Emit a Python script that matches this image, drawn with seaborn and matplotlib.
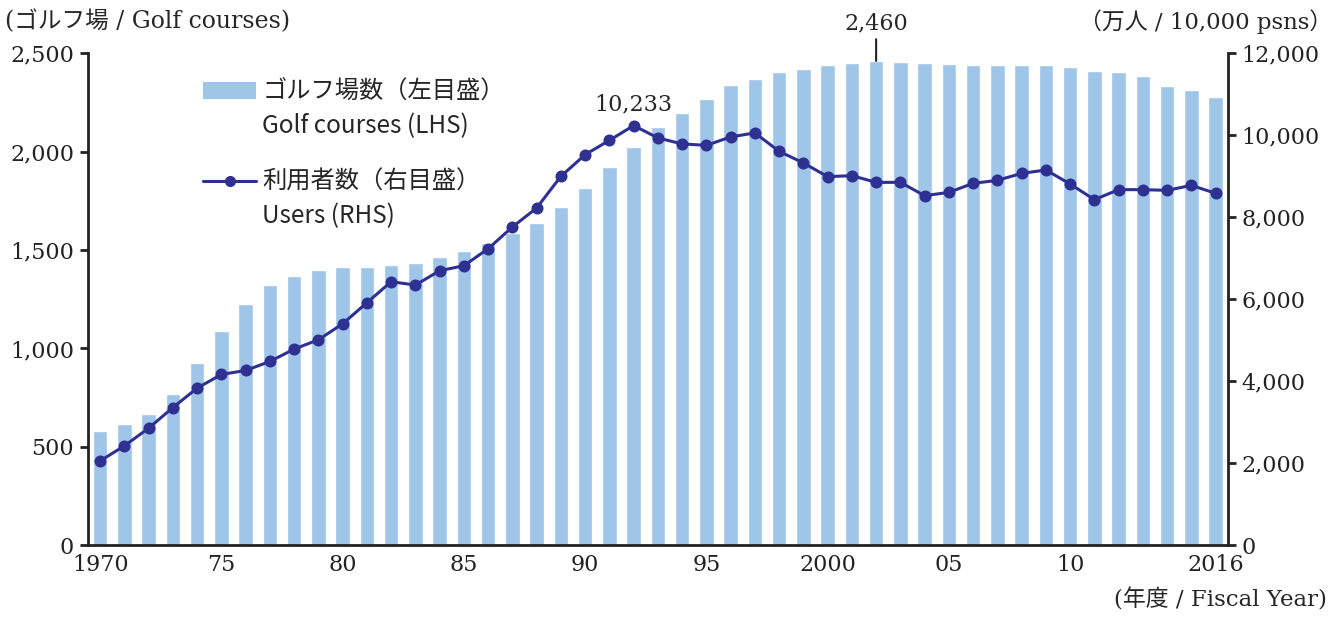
import numpy as np
import pandas as pd
import seaborn as sns
import matplotlib.pyplot as plt
from matplotlib.patches import Patch
from matplotlib.lines import Line2D

years = list(range(1970, 2017))
courses = [582, 619, 668, 771, 925, 1091, 1227, 1320, 1369, 1401,
           1415, 1416, 1425, 1435, 1467, 1494, 1536, 1586, 1637, 1719,
           1816, 1923, 2024, 2126, 2195, 2269, 2337, 2366, 2402, 2417,
           2439, 2451, 2460, 2455, 2449, 2442, 2439, 2439, 2439, 2441,
           2427, 2410, 2403, 2383, 2332, 2314, 2278]
users = [2061, 2427, 2858, 3361, 3834, 4167, 4264, 4484, 4785, 5012,
         5402, 5915, 6427, 6346, 6695, 6817, 7232, 7761, 8224, 8995,
         9524, 9873, 10233, 9932, 9785, 9751, 9956, 10054, 9605, 9322,
         8988, 9012, 8849, 8849, 8524, 8605, 8825, 8898, 9068, 9150,
         8809, 8427, 8671, 8671, 8654, 8776, 8581]
xtick_labels = {1970: "1970", 1975: "75", 1980: "80", 1985: "85", 1990: "90",
                1995: "95", 2000: "2000", 2005: "05", 2010: "10", 2016: "2016"}

df = pd.DataFrame({"year": years, "courses": courses, "users": users})

bar_color = "#9FC5E8"
line_color = "#2E3192"
serif = ["DejaVu Serif", "Noto Sans CJK JP"]
sans = ["Noto Sans CJK JP", "DejaVu Sans"]

sns.set_style("white")
plt.rcParams["font.family"] = serif

fig = plt.figure(figsize=(13.44, 6.17), dpi=100)
ax = fig.add_axes([0.0655, 0.116, 0.848, 0.798])

sns.barplot(data=df, x="year", y="courses", color=bar_color, width=0.6,
            saturation=1, ax=ax)
ax.set_ylim(0, 2500)
ax.set_xlim(-0.5, len(years) - 0.5)
ax.set_yticks(range(0, 2501, 500))
ax.set_yticklabels([f"{v:,}" for v in range(0, 2501, 500)])

pos = [years.index(y) for y in xtick_labels]
ax.set_xticks(pos)
ax.set_xticklabels(list(xtick_labels.values()))
ax.set_xlabel("")
ax.set_ylabel("")

ax2 = ax.twinx()
sns.pointplot(data=df, x="year", y="users", color=line_color, ax=ax2,
              markers="o", markersize=7, linewidth=2.2)
ax2.set_ylim(0, 12000)
ax2.set_xlim(-0.5, len(years) - 0.5)
ax2.set_yticks(range(0, 12001, 2000))
ax2.set_yticklabels([f"{v:,}" for v in range(0, 12001, 2000)])
ax2.set_ylabel("")

for a in (ax, ax2):
    a.spines["top"].set_visible(False)
    for s in ("left", "right", "bottom"):
        a.spines[s].set_linewidth(2)
        a.spines[s].set_color("#222222")
    a.tick_params(axis="y", direction="out", length=6, width=2,
                  labelsize=16, colors="#222222", pad=4)
    a.tick_params(axis="x", length=0, labelsize=16, colors="#222222", pad=6)
ax.spines["right"].set_visible(False)
ax2.spines["left"].set_visible(False)
ax2.spines["bottom"].set_visible(False)

# annotations
i92 = years.index(1992)
ax2.annotate(f"{users[i92]:,}", (i92, users[i92]), xytext=(0, 7),
             textcoords="offset points", ha="center", va="bottom", fontsize=16)
i02 = years.index(2002)
ax.annotate(f"{courses[i02]:,}", (i02, courses[i02]), xytext=(0, 19),
            textcoords="offset points", ha="center", va="bottom", fontsize=16,
            arrowprops=dict(arrowstyle="-", color="#222222", lw=1.5,
                            shrinkA=1, shrinkB=0))

# unit labels
fig.text(0.004, 0.965, "(ゴルフ場 / Golf courses)", fontsize=17, va="center",
         ha="left", family=serif)
fig.text(0.991, 0.965, "（万人 / 10,000 psns）", fontsize=16.5, va="center",
         ha="right", family=serif)
fig.text(0.987, 0.027, "(年度 / Fiscal Year)", fontsize=16.5, va="center",
         ha="right", family=serif)

# legend: handle next to the first line of each two-line entry
blank = Patch(facecolor="none", edgecolor="none")
leg_kw = dict(loc="upper left", frameon=False, prop={"family": sans, "size": 17.5},
              handlelength=2.2, handletextpad=0.25, labelspacing=0.35,
              borderpad=0, borderaxespad=0)
leg1 = fig.legend([Patch(facecolor=bar_color, edgecolor="none"), blank],
                  ["ゴルフ場数（左目盛）", "Golf courses (LHS)"],
                  bbox_to_anchor=(0.151, 0.872), **leg_kw)
leg2 = fig.legend([Line2D([0], [0], color=line_color, lw=2.2, marker="o",
                          markersize=7), blank],
                  ["利用者数（右目盛）", "Users (RHS)"],
                  bbox_to_anchor=(0.151, 0.726), **leg_kw)

fig.savefig("out.png", dpi=100)
